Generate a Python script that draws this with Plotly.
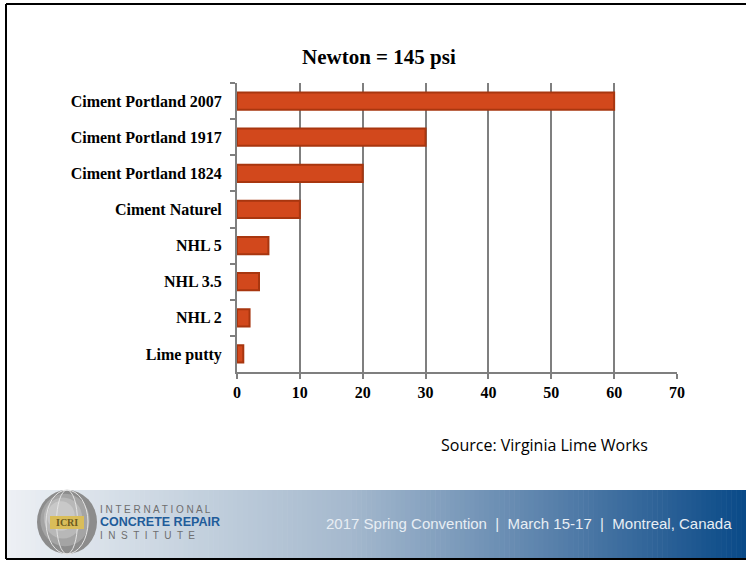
import plotly.graph_objects as go

categories = ["Ciment Portland 2007", "Ciment Portland 1917", "Ciment Portland 1824",
              "Ciment Naturel", "NHL 5", "NHL 3.5", "NHL 2", "Lime putty"]
values = [60, 30, 20, 10, 5, 3.5, 2, 1]
x_ticks = [0, 10, 20, 30, 40, 50, 60, 70]

W, H = 746, 562

def px(x):
    return x / W

def py(y):
    return 1 - y / H

fig = go.Figure()
fig.add_trace(go.Bar(
    y=categories, x=values, orientation="h",
    marker=dict(color="#D2481C", line=dict(color="#A8360F", width=2)),
    hoverinfo="skip",
))

serif = "Liberation Serif, Times New Roman, serif"

fig.update_layout(
    width=W, height=H,
    margin=dict(l=0, r=0, t=0, b=0),
    paper_bgcolor="white", plot_bgcolor="white",
    showlegend=False,
    bargap=0.52,
    xaxis=dict(
        domain=[px(237), px(677)], automargin=False,
        range=[0, 70], tickvals=x_ticks, ticktext=[str(v) for v in x_ticks],
        showgrid=True, gridcolor="#7f7f7f", gridwidth=2,
        showline=True, linecolor="#7f7f7f", linewidth=2,
        ticks="outside", ticklen=5, tickcolor="#7f7f7f", tickwidth=2,
        tickfont=dict(family=serif, size=16, color="black", weight="bold"),
        zeroline=False, fixedrange=True,
    ),
    yaxis=dict(
        domain=[py(372), py(83)], automargin=False,
        autorange="reversed",
        type="category",
        showline=True, linecolor="#7f7f7f", linewidth=2,
        ticks="outside", ticklen=5, tickcolor="#7f7f7f", tickwidth=2,
        tickson="boundaries",
        ticklabelstandoff=10,
        tickfont=dict(family=serif, size=16, color="black", weight="bold"),
        showgrid=False, zeroline=False, fixedrange=True,
    ),
)

shapes = []
# footer gradient banner
stops = [(6, (238, 241, 245)), (200, (196, 209, 222)), (350, (165, 185, 206)),
         (550, (90, 130, 172)), (746, (10, 74, 136))]
N = 150
x0b, x1b = 6, 746
for i in range(N):
    xa = x0b + (x1b - x0b) * i / N
    xb = x0b + (x1b - x0b) * (i + 1) / N + 0.6
    xm = (xa + xb) / 2
    for j in range(len(stops) - 1):
        if stops[j][0] <= xm <= stops[j + 1][0] or j == len(stops) - 2:
            t = (xm - stops[j][0]) / (stops[j + 1][0] - stops[j][0])
            t = max(0, min(1, t))
            c = tuple(int(stops[j][1][k] + (stops[j + 1][1][k] - stops[j][1][k]) * t) for k in range(3))
            break
    shapes.append(dict(type="rect", xref="paper", yref="paper",
                       x0=px(xa), x1=px(xb), y0=py(558), y1=py(490),
                       fillcolor="rgb(%d,%d,%d)" % c, line=dict(width=0), layer="below"))

# logo globe
cx, cy, rx, ry = 67, 522, 30, 32
for k, col in enumerate(["#8c8c8c", "#a4a4a4", "#b8b8b8", "#c8c8c8"]):
    s = 1 - k * 0.18
    shapes.append(dict(type="circle", xref="paper", yref="paper",
                       x0=px(cx - rx * s - k * 2), x1=px(cx + rx * s - k * 2),
                       y0=py(cy + ry * s - k * 2), y1=py(cy - ry * s - k * 2),
                       fillcolor=col, line=dict(width=0)))
for f in [0.35, 0.7]:
    shapes.append(dict(type="circle", xref="paper", yref="paper",
                       x0=px(cx - rx * f), x1=px(cx + rx * f),
                       y0=py(cy + ry), y1=py(cy - ry),
                       fillcolor="rgba(0,0,0,0)", line=dict(color="#e4e4e4", width=1)))
shapes.append(dict(type="rect", xref="paper", yref="paper",
                   x0=px(50), x1=px(84), y0=py(529), y1=py(516),
                   fillcolor="#d9bd5a", line=dict(width=0)))

# frame border: top, left, bottom (no right side)
for (xa, ya, xb, yb) in [(6, 4, 746, 4), (6, 4, 6, 559), (6, 559, 746, 559)]:
    shapes.append(dict(type="line", xref="paper", yref="paper",
                       x0=px(xa), y0=py(ya), x1=px(xb), y1=py(yb),
                       line=dict(color="black", width=2)))

fig.update_layout(shapes=shapes)

sans = "Liberation Sans, Arial, sans-serif"
annotations = [
    dict(text="<b>Newton = 145 psi</b>", x=px(379), y=py(57), xref="paper", yref="paper",
         showarrow=False, font=dict(family=serif, size=21, color="black"),
         xanchor="center", yanchor="middle"),
    dict(text="Source: Virginia Lime Works", x=px(439), y=py(445), xref="paper", yref="paper",
         showarrow=False, font=dict(family="Open Sans, Lato, sans-serif", size=16, color="black"),
         xanchor="left", yanchor="middle"),
    dict(text="2017 Spring Convention  |  March 15-17  |  Montreal, Canada",
         x=px(734), y=py(523), xref="paper", yref="paper",
         showarrow=False, font=dict(family=sans, size=15, color="#e8eef4"),
         xanchor="right", yanchor="middle"),
    dict(text="<b>ICRI</b>", x=px(67), y=py(522.5), xref="paper", yref="paper",
         showarrow=False, font=dict(family=serif, size=10, color="#6b5a1e"),
         xanchor="center", yanchor="middle"),
    dict(text="I N T E R N A T I O N A L", x=px(98), y=py(509), xref="paper", yref="paper",
         showarrow=False, font=dict(family=sans, size=10, color="#6e6e6e"),
         xanchor="left", yanchor="middle"),
    dict(text="<b>CONCRETE REPAIR</b>", x=px(98), y=py(522), xref="paper", yref="paper",
         showarrow=False, font=dict(family=sans, size=12.5, color="#1f5c9a"),
         xanchor="left", yanchor="middle"),
    dict(text="I  N  S  T  I  T  U  T  E", x=px(98), y=py(535), xref="paper", yref="paper",
         showarrow=False, font=dict(family=sans, size=10, color="#6e6e6e"),
         xanchor="left", yanchor="middle"),
]
fig.update_layout(annotations=annotations)

fig.write_html("out.html")
